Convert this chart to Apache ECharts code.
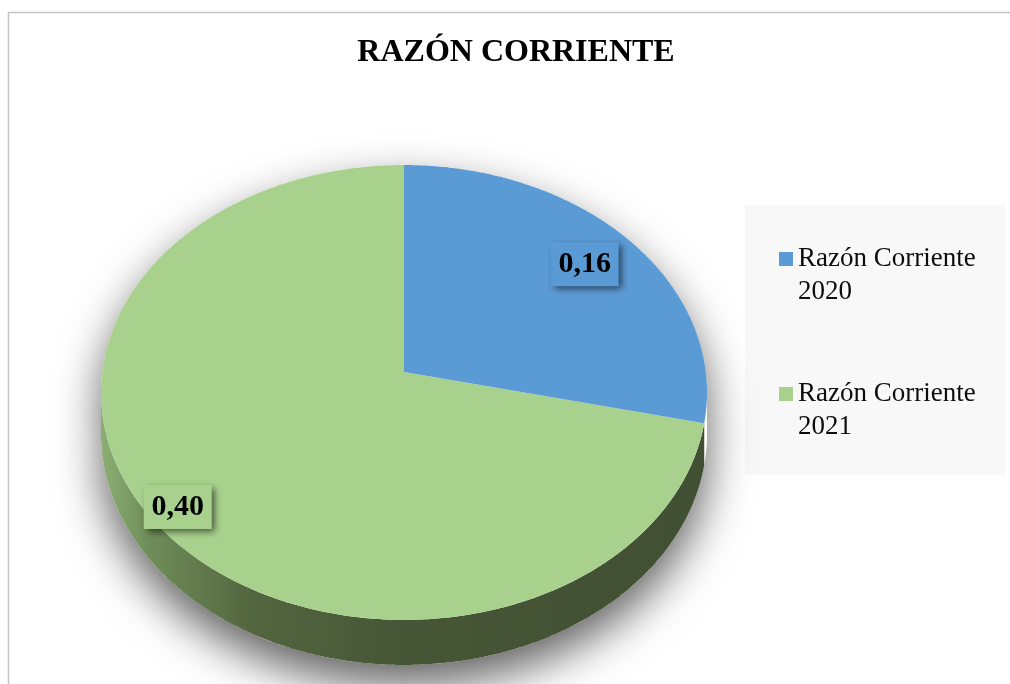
<!DOCTYPE html>
<html><head><meta charset="utf-8">
<script src="https://cdn.jsdelivr.net/npm/echarts@6/dist/echarts.min.js"></script>
<style>html,body{margin:0;padding:0;background:#fff}#c{width:1010px;height:684px}</style>
</head><body><div id="c"></div>
<script>
const chartTitle = 'RAZÓN CORRIENTE';
const categories = ['Razón Corriente 2020', 'Razón Corriente 2021'];
const values = [0.16, 0.40];

const colors = ['#5b9bd5', '#a9d18e'];
const sideColors = [
  null,
  new echarts.graphic.LinearGradient(0, 0, 1, 0, [
    {offset: 0, color: '#8cae74'}, {offset: 0.08, color: '#6f8d59'},
    {offset: 0.25, color: '#53663f'}, {offset: 0.5, color: '#465636'},
    {offset: 1, color: '#414f33'}])
];
// layout of the perspective 3D pie
const CX = 404, CY = 372, A = 301.8, B = 225.6, K = 0.09, D = 41;
const labelR = [0.8, 0.91];
const SERIF = '"Liberation Serif", "Times New Roman", serif';

function fmt(v) { return v.toFixed(2).replace('.', ','); }

// project a point of the unit disc (angle deg from 12 o'clock, clockwise; radius r) with perspective
function pt(deg, r, down) {
  const t = deg * Math.PI / 180;
  const rr = r == null ? 1 : r;
  const u = rr * Math.sin(t), v = -rr * Math.cos(t);
  const w = 1 - K * v;
  return [CX + A * u / w, CY + B * v / w + (down ? D / w : 0)];
}
const EDGE = Math.acos(-K) * 180 / Math.PI; // silhouette tangent angle

function makeRender(i) {
  return function (params, api) {
    const total = values.reduce((a, b) => a + b, 0);
    let start = 0;
    for (let k = 0; k < i; k++) start += values[k];
    const v = api.value(0);
    const a0 = start / total * 360, a1 = (start + v) / total * 360;
    const children = [];
    if (i === values.length - 1) {
      const sil = [];
      for (let d = EDGE - 360; d <= EDGE; d += 1) sil.push(pt(d));
      for (let d = EDGE; d <= 360 - EDGE; d += 1) sil.push(pt(d, 1, true));
      children.push({type: 'polygon', z2: 0, shape: {points: sil},
        style: {fill: '#ffffff', shadowBlur: 45, shadowColor: 'rgba(0,0,0,0.62)', shadowOffsetY: 20}});
    }
    const s0 = Math.max(a0, EDGE), s1 = Math.min(a1, 360 - EDGE);
    if (sideColors[i] && s1 > s0) {
      const pts = [];
      for (let d = s0; d < s1; d += 0.5) pts.push(pt(d));
      pts.push(pt(s1));
      for (let d = s1; d > s0; d -= 0.5) pts.push(pt(d, 1, true));
      pts.push(pt(s0, 1, true));
      children.push({type: 'polygon', z2: 1, shape: {points: pts}, style: {fill: sideColors[i]}});
    }
    const top = [pt(0, 0)];
    for (let d = a0; d < a1; d += 0.5) top.push(pt(d));
    top.push(pt(a1));
    children.push({type: 'polygon', z2: 2, shape: {points: top}, style: {fill: colors[i]}});
    const c = pt((a0 + a1) / 2, labelR[i]);
    const bw = 68, bh = 44;
    children.push({type: 'rect', z2: 9, shape: {x: c[0] - bw / 2, y: c[1] - bh / 2, width: bw, height: bh},
      style: {fill: colors[i], shadowBlur: 7, shadowColor: 'rgba(0,0,0,0.6)', shadowOffsetX: 3, shadowOffsetY: 3}});
    children.push({type: 'text', z2: 10, style: {
      text: fmt(v), x: c[0], y: c[1], align: 'center', verticalAlign: 'middle',
      font: 'bold 30px ' + SERIF, fill: '#000'
    }});
    return {type: 'group', children: children};
  };
}

const chart = echarts.init(document.getElementById('c'), null, {renderer: 'canvas'});
chart.setOption({
  backgroundColor: '#ffffff',
  animation: false,
  title: {text: chartTitle, left: 516, top: 37, textAlign: 'center', padding: 0,
    textStyle: {fontFamily: SERIF, fontWeight: 'bold', fontSize: 32, lineHeight: 32, color: '#000'}},
  graphic: [
    {type: 'rect', z: -10, shape: {x: 8.5, y: 12.5, width: 1100, height: 1000},
      style: {fill: 'none', stroke: '#c4c4c4', lineWidth: 1.5}},
    {type: 'rect', z: -10, shape: {x: 745, y: 205, width: 261, height: 270}, style: {fill: '#f8f8f8'}}
  ],
  legend: {
    data: categories, orient: 'vertical', left: 779, top: 209.5, padding: 0,
    itemWidth: 14, itemHeight: 14, itemGap: 36, icon: 'rect', selectedMode: false,
    formatter: n => ' \n' + n.replace(/ (\d{4})$/, '\n$1'),
    textStyle: {fontFamily: SERIF, fontSize: 27, lineHeight: 33, color: '#0d0d0d'}
  },
  series: categories.map((name, i) => ({
    type: 'custom', name: name, z: 3 - i,
    coordinateSystem: 'none',
    itemStyle: {color: colors[i]},
    data: [[values[i]]],
    renderItem: makeRender(i)
  }))
});
</script></body></html>
